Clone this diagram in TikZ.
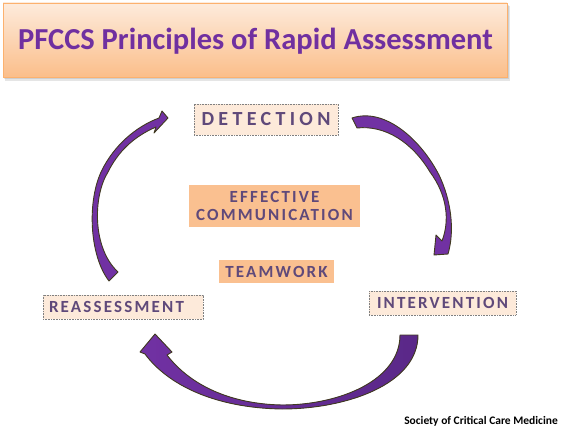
\documentclass[tikz,border=0pt]{standalone}
\usepackage{fontspec}
\setmainfont{Carlito}
\newfontfamily\lblfont{Carlito}[LetterSpace=12.8]
\newfontfamily\detfont{Carlito}[LetterSpace=21.6]
\definecolor{titlepurple}{HTML}{7030A0}
\definecolor{lblpurple}{HTML}{5F497A}
\definecolor{peach}{HTML}{FDEADA}
\definecolor{orangebox}{HTML}{FAC090}
\definecolor{arrowfill}{HTML}{7131A3}
\definecolor{arrowdark}{HTML}{5A2888}
\definecolor{arrowline}{HTML}{403A20}
\definecolor{titletop}{HTML}{FDEBDC}
\definecolor{titlebot}{HTML}{FBBE8A}
\tikzset{
  stagebox/.style={draw=gray, dash pattern=on 1pt off 0.6pt, line width=0.8pt,
    fill=peach, text=lblpurple, inner sep=0pt,
    font=\lblfont\bfseries\fontsize{17}{18.5}\selectfont},
  corebox/.style={fill=orangebox, text=lblpurple, inner sep=0pt,
    font=\lblfont\bfseries\fontsize{17}{18.5}\selectfont},
  bigarrow/.style={draw=arrowline, line width=0.9pt, fill=arrowfill, line join=round},
}
\begin{document}
\begin{tikzpicture}[x=1pt,y=-1pt]
\useasboundingbox (0,0) rectangle (561,427);
% title
\fill[black, opacity=0.10] (5,6) rectangle (510,81);
\fill[black, opacity=0.10] (4,5) rectangle (509,79.5);
\node[draw=titlebot!80!orange, line width=0.5pt, top color=titletop, bottom color=titlebot,
      minimum width=504, minimum height=74, inner sep=0pt] (titlebox) at (255,40) {};
\node[anchor=base, text=titlepurple, inner sep=0pt,
      font=\bfseries\fontsize{30.5}{36}\selectfont] (title) at (255.5,50)
      {PFCCS Principles of Rapid Assessment};
% stages
\node[stagebox, minimum width=144, minimum height=31,
      font=\detfont\bfseries\fontsize{20}{22}\selectfont] (det) at (266,119.5) {DETECTION};
\node[stagebox, minimum width=147, minimum height=24] (int) at (442.5,303) {INTERVENTION};
\node[stagebox, text width=148pt, align=left, inner xsep=6pt, minimum height=24] (rea) at (123,307) {REASSESSMENT};
% core
\node[corebox, minimum width=171, minimum height=42, align=center] (comm) at (274.5,206) {EFFECTIVE\\COMMUNICATION};
\node[corebox, minimum width=115, minimum height=23] (team) at (276.5,271.5) {TEAMWORK};
% arrows
\draw[bigarrow] (109,281) .. controls (89,255) and (87,200) .. (102,170)
  .. controls (114,146) and (135,127) .. (159,118)
  -- (162,111) -- (168,118) -- (154,133) -- (156,127)
  .. controls (133,137) and (118,152) .. (108,172)
  .. controls (93,196) and (92,248) .. (118,272) -- cycle;
\draw[bigarrow] (352,118) .. controls (385,107) and (421,140) .. (439,175)
  .. controls (451,200) and (455,230) .. (448,254)
  -- (434,255) -- (436,235) -- (442,241)
  .. controls (450,220) and (447,195) .. (430,172)
  .. controls (412,142) and (385,125) .. (357,128) -- cycle;
\draw[bigarrow, left color=arrowfill, right color=arrowdark]
  (418,335) .. controls (418,385) and (345,409) .. (282,409)
  .. controls (215,408) and (168,385) .. (145,354)
  -- (140,352) -- (155,334) -- (172,352) -- (167,355)
  .. controls (190,385) and (230,404) .. (282,405)
  .. controls (340,405) and (400,380) .. (400,335) -- cycle;
% credit
\node[anchor=base east, inner sep=0pt, font=\bfseries\fontsize{11.5}{14}\selectfont] (credit) at (558,424) {Society of Critical Care Medicine};
\end{tikzpicture}
\end{document}
